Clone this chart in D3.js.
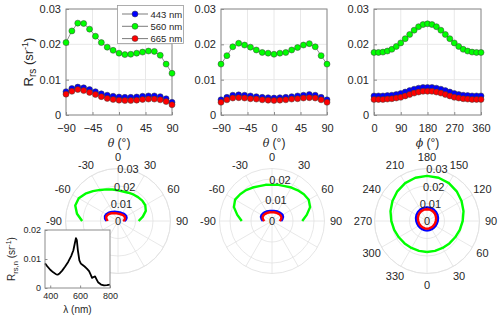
<!DOCTYPE html>
<html><head><meta charset="utf-8">
<script src="https://cdn.jsdelivr.net/npm/d3@7"></script>
<style>body{margin:0;background:#fff}svg{display:block}text{font-family:"Liberation Sans",Arial,Helvetica,sans-serif;fill:#262626}</style>
</head><body><svg id="c" width="500" height="320"></svg>
<script>
// ---- data ----
const thetaDeg = [-90,-80,-70,-60,-50,-40,-30,-20,-10,0,10,20,30,40,50,60,70,80,90];
const phiDeg = [0,15,30,45,60,75,90,105,120,135,150,165,180,195,210,225,240,255,270,285,300,315,330,345,360];
const wavelengths = ["443 nm","560 nm","665 nm"];
const seriesColors = ["#0000ff","#00ff00","#ff0000"];
// panel 1 (theta, plane A)
const p1_443 = [0.0066,0.0075,0.0079,0.0077,0.0072,0.0066,0.0060,0.0056,0.0053,0.0051,0.0050,0.0050,0.0051,0.0053,0.0054,0.0054,0.0052,0.0046,0.0036];
const p1_560 = [0.0205,0.0238,0.0260,0.0259,0.0243,0.0223,0.0205,0.0192,0.0183,0.0175,0.0171,0.0172,0.0175,0.0178,0.0181,0.0180,0.0169,0.0144,0.0118];
const p1_665 = [0.0059,0.0067,0.0072,0.0069,0.0064,0.0058,0.0052,0.0047,0.0044,0.0042,0.0041,0.0041,0.0042,0.0044,0.0045,0.0045,0.0043,0.0038,0.0029];
// panel 2 (theta, plane B)
const p2_443 = [0.0043,0.0050,0.0056,0.0057,0.0056,0.0054,0.0052,0.0050,0.0049,0.0048,0.0049,0.0050,0.0052,0.0054,0.0056,0.0058,0.0056,0.0050,0.0043];
const p2_560 = [0.0144,0.0168,0.0193,0.0203,0.0198,0.0192,0.0184,0.0177,0.0175,0.0172,0.0175,0.0177,0.0184,0.0191,0.0198,0.0202,0.0193,0.0168,0.0144];
const p2_665 = [0.0036,0.0043,0.0048,0.0049,0.0048,0.0046,0.0045,0.0043,0.0042,0.0041,0.0042,0.0043,0.0045,0.0046,0.0048,0.0049,0.0048,0.0043,0.0036];
// panel 3 (phi)
const p3_443 = [0.0054,0.0054,0.0054,0.0055,0.0056,0.0058,0.0061,0.0065,0.0069,0.0073,0.0076,0.0078,0.0078,0.0078,0.0076,0.0073,0.0069,0.0065,0.0061,0.0058,0.0056,0.0055,0.0054,0.0054,0.0054];
const p3_560 = [0.0177,0.0177,0.0178,0.0181,0.0186,0.0194,0.0204,0.0216,0.0228,0.0240,0.0250,0.0256,0.0258,0.0256,0.0250,0.0240,0.0228,0.0216,0.0204,0.0194,0.0186,0.0181,0.0178,0.0177,0.0177];
const p3_665 = [0.0044,0.0044,0.0044,0.0045,0.0046,0.0048,0.0050,0.0054,0.0058,0.0062,0.0065,0.0067,0.0067,0.0067,0.0065,0.0062,0.0058,0.0054,0.0050,0.0048,0.0046,0.0045,0.0044,0.0044,0.0044];
// inset spectrum
const lambda = [365,380,400,420,440,450,460,480,500,520,540,555,565,572,578,585,595,605,615,630,645,660,670,680,690,700,710,720,740,760,780,800];
const rrsn   = [0.0085,0.0075,0.0063,0.0054,0.0047,0.0046,0.0049,0.0060,0.0074,0.0090,0.0110,0.0130,0.0155,0.0172,0.0165,0.0130,0.0095,0.0084,0.0080,0.0074,0.0067,0.0058,0.0047,0.0035,0.0038,0.0040,0.0030,0.0020,0.0012,0.0009,0.0010,0.0012];
const yTicks = [0,0.01,0.02,0.03];
const thetaTicks = [-90,-45,0,45,90];
const phiTicks = [0,90,180,270,360];
const polarThetaLabels = [-90,-60,-30,0,30,60,90];
const polarPhiLabels = [0,30,60,90,120,150,180,210,240,270,300,330];

const svg = d3.select("#c");
const TOP=9, BOT=115;
const axisCol="#8c8c8c", gridCol="#e8e8e8";

function linePanel(x0,w,xDomain,xTicks,xs,series,xlabel,showYLabel){
  const x=d3.scaleLinear().domain(xDomain).range([x0,x0+w]);
  const y=d3.scaleLinear().domain([0,0.03]).range([BOT,TOP]);
  const g=svg.append("g");
  g.selectAll(".gx").data(xTicks).enter().append("line").attr("x1",d=>x(d)).attr("x2",d=>x(d)).attr("y1",TOP).attr("y2",BOT).attr("stroke",gridCol);
  g.selectAll(".gy").data(yTicks).enter().append("line").attr("x1",x0).attr("x2",x0+w).attr("y1",d=>y(d)).attr("y2",d=>y(d)).attr("stroke",gridCol);
  const ax=g.append("g").attr("transform",`translate(0,${BOT})`).call(d3.axisBottom(x).tickValues(xTicks).tickSize(-3).tickPadding(9).tickFormat(d3.format("d")));
  const ay=g.append("g").attr("transform",`translate(${x0},0)`).call(d3.axisLeft(y).tickValues(yTicks).tickSize(-3).tickPadding(5).tickFormat(d=>d===0?"0":d3.format(".2f")(d)));
  [ax,ay].forEach(a=>{a.select(".domain").remove();a.selectAll("line").attr("stroke",axisCol);a.selectAll("text").attr("font-size",11).attr("fill","#262626").style("font-family","Liberation Sans, Arial");});
  g.append("rect").attr("x",x0).attr("y",TOP).attr("width",w).attr("height",BOT-TOP).attr("fill","none").attr("stroke",axisCol).attr("stroke-width",1);
  series.forEach((s,i)=>{
    g.append("path").datum(s).attr("fill","none").attr("stroke","#444").attr("stroke-width",0.6)
      .attr("d",d3.line().x((d,j)=>x(xs[j])).y(d=>y(d)));
    g.selectAll(".m"+i).data(s).enter().append("circle").attr("cx",(d,j)=>x(xs[j])).attr("cy",d=>y(d)).attr("r",3)
      .attr("fill",seriesColors[i]).attr("stroke","#3a3a3a").attr("stroke-width",0.5);
  });
  const xl=g.append("text").attr("x",x0+w/2).attr("y",147).attr("text-anchor","middle").attr("font-size",12);
  xl.append("tspan").attr("font-style","italic").style("font-family","DejaVu Serif, serif").attr("font-size",11).text(xlabel);
  xl.append("tspan").text(" (°)");
  if(showYLabel){
    const t=g.append("text").attr("transform",`translate(33,${(TOP+BOT)/2}) rotate(-90)`).attr("text-anchor","middle").attr("font-size",13);
    t.append("tspan").text("R");
    t.append("tspan").attr("font-size",10).attr("dy",3).text("rs");
    t.append("tspan").attr("dy",-3).text(" (sr");
    t.append("tspan").attr("font-size",9).attr("dy",-5).text("-1");
    t.append("tspan").attr("dy",5).text(")");
  }
}
linePanel(66,106,[-90,90],thetaTicks,thetaDeg,[p1_443,p1_560,p1_665],"θ",true);
linePanel(221,106,[-90,90],thetaTicks,thetaDeg,[p2_443,p2_560,p2_665],"θ",false);
linePanel(374,107,[0,360],phiTicks,phiDeg,[p3_443,p3_560,p3_665],"ϕ",false);

// legend
const lg=svg.append("g");
lg.append("rect").attr("x",117.5).attr("y",5.5).attr("width",66).attr("height",38).attr("fill","#fff").attr("stroke","#9a9a9a").attr("stroke-width",0.8);
wavelengths.forEach((w,i)=>{
  const yy=14+i*12.3;
  lg.append("line").attr("x1",122).attr("x2",148).attr("y1",yy).attr("y2",yy).attr("stroke","#444").attr("stroke-width",0.7);
  lg.append("circle").attr("cx",135).attr("cy",yy).attr("r",3).attr("fill",seriesColors[i]).attr("stroke","#3a3a3a").attr("stroke-width",0.5);
  lg.append("text").attr("x",150.5).attr("y",yy+3.5).attr("font-size",9.5).text(w);
});

// polar panels
const R=52.5, polarGrid="#e2e2e2";
function polarPanel(cx,cy,rmax,rTicks,angleFn,labelVals,xs,series){
  const r=d3.scaleLinear().domain([0,rmax]).range([0,R]);
  const g=svg.append("g").attr("transform",`translate(${cx},${cy})`);
  for(let a=0;a<360;a+=30){
    const t=a*Math.PI/180;
    g.append("line").attr("x1",0).attr("y1",0).attr("x2",R*Math.sin(t)).attr("y2",-R*Math.cos(t)).attr("stroke",polarGrid).attr("stroke-width",0.8);
  }
  rTicks.filter(d=>d>0).forEach(d=>g.append("circle").attr("r",r(d)).attr("fill","none").attr("stroke",polarGrid).attr("stroke-width",0.8));
  g.append("circle").attr("r",R).attr("fill","none").attr("stroke",polarGrid).attr("stroke-width",0.9);
  labelVals.forEach(v=>{
    const t=angleFn(v);
    g.append("text").attr("x",64*Math.sin(t)).attr("y",-64*Math.cos(t)).attr("dy","0.35em").attr("text-anchor","middle").attr("font-size",11).text(v);
  });
  const lr=d3.lineRadial().angle((d,j)=>angleFn(xs[j])).radius(d=>r(d));
  series.forEach((s,i)=>{
    g.append("path").datum(s).attr("fill","none").attr("stroke",seriesColors[i]).attr("stroke-width",2.4).attr("stroke-linejoin","round").attr("d",lr);
  });
  const a=11*Math.PI/180;
  rTicks.forEach(d=>{
    g.append("text").attr("x",r(d)*Math.sin(a)).attr("y",-r(d)*Math.cos(a)).attr("dy","0.35em").attr("text-anchor","middle").attr("font-size",11).text(d===0?"0":d3.format(".2f")(d));
  });
}
const thetaAngle=v=>v*Math.PI/180;
const phiAngle=v=>Math.PI - v*Math.PI/180;
polarPanel(118,221,0.03,[0,0.01,0.02,0.03],thetaAngle,polarThetaLabels,thetaDeg,[p1_443,p1_560,p1_665]);
polarPanel(272,221,0.025,[0,0.01,0.02],thetaAngle,polarThetaLabels,thetaDeg,[p2_443,p2_560,p2_665]);
polarPanel(427,221,0.03,[0,0.01,0.02,0.03],phiAngle,polarPhiLabels,phiDeg,[p3_443,p3_560,p3_665]);

// inset
const ix0=45, ix1=110, iy0=230, iy1=288;
const xi=d3.scaleLinear().domain([365,800]).range([ix0,ix1]);
const yi=d3.scaleLinear().domain([0,0.02]).range([iy1,iy0]);
const ig=svg.append("g");
ig.append("rect").attr("x",ix0).attr("y",iy0).attr("width",ix1-ix0).attr("height",iy1-iy0).attr("fill","#fff");
const iax=ig.append("g").attr("transform",`translate(0,${iy1})`).call(d3.axisBottom(xi).tickValues([400,600,800]).tickSize(-2.5).tickPadding(5));
const iay=ig.append("g").attr("transform",`translate(${ix0},0)`).call(d3.axisLeft(yi).tickValues([0,0.01,0.02]).tickSize(-2.5).tickPadding(4).tickFormat(d=>d===0?"0":d3.format(".2f")(d)));
[iax,iay].forEach(a=>{a.select(".domain").remove();a.selectAll("line").attr("stroke",axisCol);a.selectAll("text").attr("font-size",9).attr("fill","#262626").style("font-family","Liberation Sans, Arial");});
ig.append("path").datum(rrsn).attr("fill","none").attr("stroke","#000").attr("stroke-width",1.8).attr("stroke-linejoin","round")
  .attr("d",d3.line().x((d,j)=>xi(lambda[j])).y(d=>yi(d)));
ig.append("rect").attr("x",ix0).attr("y",iy0).attr("width",ix1-ix0).attr("height",iy1-iy0).attr("fill","none").attr("stroke",axisCol);
const ixl=ig.append("text").attr("x",(ix0+ix1)/2).attr("y",313).attr("text-anchor","middle").attr("font-size",10);
ixl.append("tspan").text("λ (nm)");
const iyl=ig.append("text").attr("transform",`translate(15,${(iy0+iy1)/2}) rotate(-90)`).attr("text-anchor","middle").attr("font-size",10);
iyl.append("tspan").text("R");
iyl.append("tspan").attr("font-size",7.5).attr("dy",2.5).text("rs,n");
iyl.append("tspan").attr("dy",-2.5).text(" (sr");
iyl.append("tspan").attr("font-size",7).attr("dy",-4).text("-1");
iyl.append("tspan").attr("dy",4).text(")");
</script></body></html>
